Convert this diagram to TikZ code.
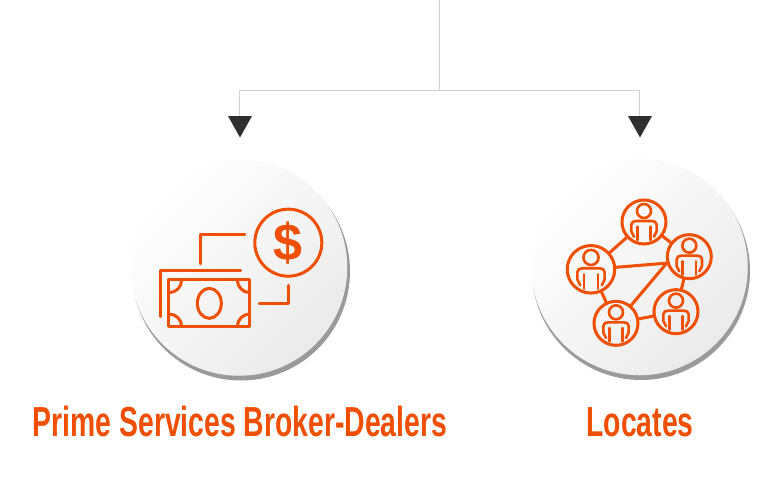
\documentclass[tikz,border=0pt]{standalone}
\usepackage{fontspec}
\usetikzlibrary{shapes.geometric,shadings}
\newfontfamily\condfont[FakeStretch=0.675]{Liberation Sans Bold}
\newfontfamily\dollarfont{Liberation Sans Bold}
\definecolor{brand}{HTML}{F04E00}
\definecolor{rule}{HTML}{D2D2D2}
\definecolor{tip}{HTML}{2F2F2F}
\definecolor{shade}{HTML}{9A9A9A}
\tikzset{
  px/.style={x=1pt,y=-1pt},
  zoomone/.style={shift={(120,160)},x=0.3333pt,y=-0.3333pt},
  zoomtwo/.style={shift={(520,150)},x=0.3333pt,y=-0.3333pt},
  connector/.style={draw=rule,line width=0.9pt},
  tipmark/.style={fill=tip,draw=none},
  disc/.style={circle,minimum size=216.5pt,inner sep=0pt,top color=white,bottom color=black!8,shading angle=45},
  discshadow/.style={circle,minimum size=218pt,inner sep=0pt,fill=shade},
  icon/.style={draw=brand,line width=3pt,line join=round,line cap=round},
  iconthin/.style={draw=brand,line width=2.6pt,line join=round,line cap=round},
  member/.style={circle,draw=brand,line width=3pt,inner sep=0pt,minimum size=#1},
  title/.style={text=brand,font=\condfont\fontsize{42}{42}\selectfont,inner sep=0pt,anchor=base},
  pics/person/.style={code={
    \draw[iconthin] (0,-33) circle [radius=21];
    \draw[iconthin] (-30,44) -- (-38,28) -- (-38,8) .. controls (-38,0) and (-31,-3) .. (-23,-3)
       -- (23,-3) .. controls (31,-3) and (38,0) .. (38,8) -- (38,28) -- (30,44);
    \draw[iconthin] (-20,14) -- (-20,54);
    \draw[iconthin] (20,14) -- (20,54);
  }}
}
\begin{document}
\begin{tikzpicture}[px]
\useasboundingbox (0,0) rectangle (768,501);
% connectors
\coordinate (top) at (439,0);
\coordinate (junction) at (439,90.5);
\coordinate (leftcorner) at (239,90.5);
\coordinate (rightcorner) at (639,90.5);
\coordinate (leftin) at (239,117);
\coordinate (rightin) at (639,117);
\draw[connector] (top) -- (junction);
\draw[connector] (leftin) -- (leftcorner) -- (rightcorner) -- (rightin);
\fill[tipmark] (228,116) -- (252,116) -- (240,137.5) -- cycle;
\fill[tipmark] (628,116) -- (652,116) -- (640,137.5) -- cycle;
% discs
\node[discshadow] (shadowa) at (241,271.5) {};
\node[discshadow] (shadowb) at (641,271) {};
\node[disc] (disca) at (239,267.5) {};
\node[disc] (discb) at (639.5,267) {};
% money icon
\begin{scope}[zoomone]
  \draw[icon] (122,470) -- (122,332) -- (362,332);
  \begin{scope}
    \clip (147,360) rectangle (390,500);
    \draw[icon] (147,360) circle [radius=38];
    \draw[icon] (390,360) circle [radius=38];
    \draw[icon] (147,500) circle [radius=38];
    \draw[icon] (390,500) circle [radius=38];
  \end{scope}
  \draw[icon] (147,360) rectangle (390,500);
  \draw[icon] (268,430) ellipse [x radius=36,y radius=45];
  \draw[icon] (242,312) -- (242,224) -- (375,224);
  \draw[icon] (418,430) -- (505,430) -- (505,376);
  \node[circle,draw=brand,line width=3pt,minimum size=67pt,inner sep=0pt,text=brand,font=\dollarfont\fontsize{52}{52}\selectfont] (coin) at (505,248) {\$};
\end{scope}
% network icon
\begin{scope}[zoomtwo]
  \node[member=44pt] (pa) at (372,216) {};
  \node[member=44pt] (pb) at (508,320) {};
  \node[member=47.5pt] (pc) at (213,358) {};
  \node[member=44pt] (pd) at (288,520) {};
  \node[member=44pt] (pe) at (468,485) {};
  \draw[icon] (pc) -- (pa);
  \draw[icon] (pa) -- (pb);
  \draw[icon] (pc) -- (pb.196);
  \draw[icon] (pd) -- (pb.196);
  \draw[icon] (pc) -- (pd);
  \draw[icon] (pd) -- (pe);
  \draw[icon] (pb) -- (pe);
  \pic at (372,216) {person};
  \pic at (508,320) {person};
  \pic[scale=1.08] at (213,358) {person};
  \pic at (288,520) {person};
  \pic at (468,485) {person};
\end{scope}
% titles
\node[title] (labela) at (240,436.5) {Prime Services Broker-Dealers};
\node[title] (labelb) at (640,436.5) {Locates};
\end{tikzpicture}
\end{document}
